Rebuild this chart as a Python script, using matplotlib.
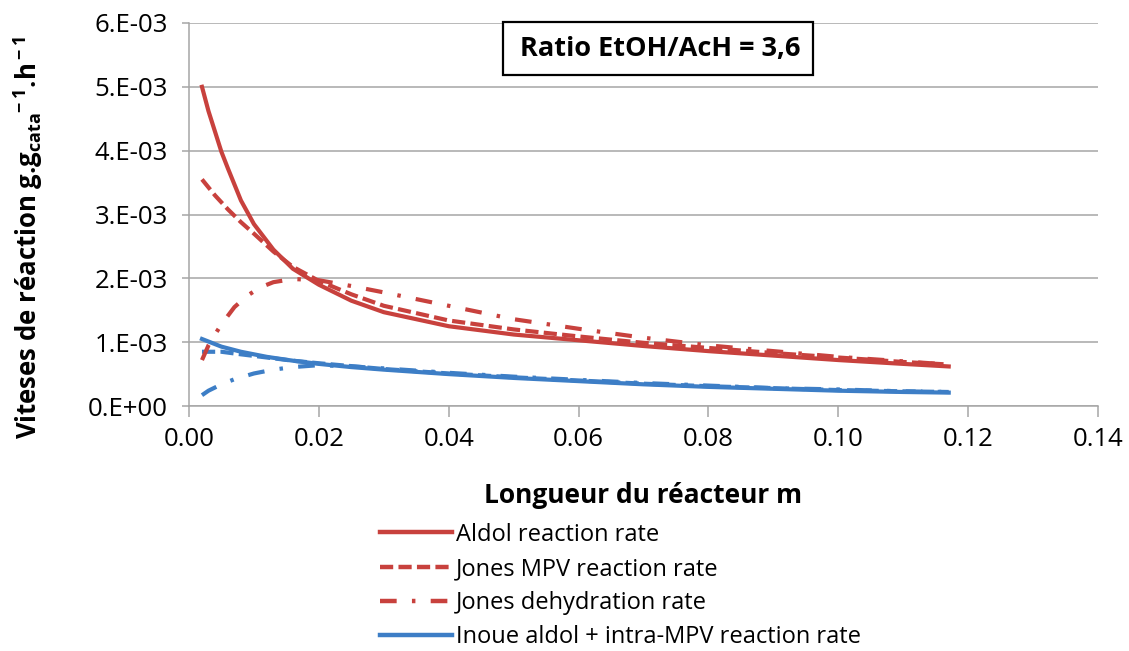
import matplotlib
matplotlib.use("Agg")
import matplotlib.pyplot as plt
from matplotlib.patches import Rectangle
from matplotlib.lines import Line2D

plt.rcParams["font.family"] = ["Open Sans", "DejaVu Sans"]
plt.rcParams["mathtext.fontset"] = "custom"
plt.rcParams["mathtext.rm"] = "Open Sans:bold"
plt.rcParams["mathtext.it"] = "Open Sans:bold"
plt.rcParams["mathtext.bf"] = "Open Sans:bold"
plt.rcParams["lines.scale_dashes"] = False

RED = "#C8413D"
BLUE = "#3D7EC6"
GRID = "#A6A6A6"

# reactor length (m) and rates (x1e-3)
aldol_x = [0.002, 0.003, 0.004, 0.005, 0.006, 0.008, 0.010, 0.013, 0.016, 0.020,
           0.025, 0.030, 0.040, 0.050, 0.060, 0.070, 0.080, 0.090, 0.100, 0.110, 0.117]
aldol_y = [5.00, 4.62, 4.30, 3.98, 3.72, 3.22, 2.85, 2.45, 2.15, 1.90,
           1.65, 1.47, 1.25, 1.12, 1.03, 0.94, 0.86, 0.79, 0.72, 0.66, 0.62]

mpv_x = [0.002, 0.004, 0.006, 0.008, 0.010, 0.013, 0.016, 0.020, 0.025, 0.030,
         0.040, 0.050, 0.060, 0.070, 0.080, 0.090, 0.100, 0.110, 0.117]
mpv_y = [3.55, 3.30, 3.08, 2.88, 2.70, 2.42, 2.18, 1.96, 1.75, 1.57,
         1.34, 1.20, 1.09, 0.99, 0.91, 0.83, 0.76, 0.69, 0.65]

dehyd_x = [0.002, 0.003, 0.004, 0.005, 0.007, 0.009, 0.011, 0.013, 0.016, 0.020,
           0.025, 0.030, 0.040, 0.050, 0.060, 0.070, 0.080, 0.090, 0.100, 0.110, 0.117]
dehyd_y = [0.72, 0.95, 1.12, 1.28, 1.55, 1.73, 1.86, 1.94, 1.99, 1.97,
           1.88, 1.78, 1.57, 1.36, 1.21, 1.07, 0.95, 0.86, 0.77, 0.70, 0.65]

inoue_x = [0.002, 0.005, 0.008, 0.012, 0.016, 0.020, 0.025, 0.030, 0.040, 0.050,
           0.060, 0.070, 0.080, 0.090, 0.100, 0.110, 0.117]
inoue_y = [1.05, 0.93, 0.85, 0.77, 0.71, 0.66, 0.61, 0.57, 0.50, 0.44,
           0.39, 0.34, 0.30, 0.27, 0.24, 0.22, 0.21]

blue_dash_x = [0.002, 0.005, 0.008, 0.012, 0.016, 0.020, 0.030, 0.040, 0.050,
               0.060, 0.070, 0.080, 0.090, 0.100, 0.110, 0.117]
blue_dash_y = [0.85, 0.85, 0.81, 0.76, 0.71, 0.67, 0.58, 0.51, 0.45,
               0.40, 0.35, 0.31, 0.28, 0.25, 0.23, 0.22]

blue_dd_x = [0.002, 0.003, 0.005, 0.007, 0.010, 0.013, 0.016, 0.020, 0.025, 0.030,
             0.040, 0.050, 0.060, 0.070, 0.080, 0.090, 0.100, 0.110, 0.117]
blue_dd_y = [0.17, 0.24, 0.34, 0.42, 0.51, 0.57, 0.61, 0.64, 0.62, 0.59,
             0.52, 0.46, 0.41, 0.36, 0.32, 0.28, 0.26, 0.23, 0.22]

y_ticks = [0, 1, 2, 3, 4, 5, 6]
y_tick_labels = ["0.E+00", "1.E-03", "2.E-03", "3.E-03", "4.E-03", "5.E-03", "6.E-03"]
x_ticks = [0.00, 0.02, 0.04, 0.06, 0.08, 0.10, 0.12, 0.14]
x_tick_labels = ["0.00", "0.02", "0.04", "0.06", "0.08", "0.10", "0.12", "0.14"]

legend_labels = ["Aldol reaction rate", "Jones MPV reaction rate",
                 "Jones dehydration rate", "Inoue aldol + intra-MPV reaction rate"]

DASH = (0, (9.5, 3.8))
DASHDOT = (0, (12, 11, 2.5, 11))

fig = plt.figure(figsize=(11.29, 6.51), dpi=100)
ax = fig.add_axes([0.1674, 0.3763, 0.8052, 0.5884])

lw = 3.0
ax.plot(blue_dd_x, blue_dd_y, color=BLUE, lw=lw, linestyle=DASHDOT)
ax.plot(blue_dash_x, blue_dash_y, color=BLUE, lw=lw, linestyle=DASH)
ax.plot(inoue_x, inoue_y, color=BLUE, lw=lw)
ax.plot(dehyd_x, dehyd_y, color=RED, lw=lw, linestyle=DASHDOT)
ax.plot(mpv_x, mpv_y, color=RED, lw=lw, linestyle=DASH)
ax.plot(aldol_x, aldol_y, color=RED, lw=lw)

ax.set_xlim(0, 0.14)
ax.set_ylim(0, 6)
ax.set_yticks(y_ticks)
ax.set_yticklabels(y_tick_labels, fontsize=18.5)
ax.set_xticks(x_ticks)
ax.set_xticklabels(x_tick_labels, fontsize=18.5)
ax.yaxis.grid(True, color=GRID, lw=1.1)
ax.set_axisbelow(True)
for s in ["top", "right"]:
    ax.spines[s].set_visible(False)
for s in ["left", "bottom"]:
    ax.spines[s].set_color(GRID)
    ax.spines[s].set_linewidth(1.1)
ax.tick_params(axis="x", length=8, width=1.1, color=GRID, pad=7)
ax.tick_params(axis="y", length=5, width=1.1, color=GRID, pad=10)

ax.set_xlabel("Longueur du réacteur m", fontsize=19, fontweight="bold", labelpad=22)
ax.set_ylabel(r"Viteses de réaction g.g$_{\rm cata}\!{}^{\rm -1}$.h$^{\rm -1}$",
              fontsize=18.5, fontweight="bold")
ax.yaxis.set_label_coords(-0.158, 0.44)

# ratio box
fig.add_artist(Rectangle((0.4455, 0.8848), 0.2746, 0.0814, transform=fig.transFigure,
                         fill=True, facecolor="white", edgecolor="black", lw=1.6))
fig.text(0.5845, 0.924, "Ratio EtOH/AcH = 3,6", fontsize=19.5, fontweight="bold",
         ha="center", va="center")

handles = [Line2D([], [], color=RED, lw=3.2),
           Line2D([], [], color=RED, lw=3.2, linestyle=DASH),
           Line2D([], [], color=RED, lw=3.2, linestyle=DASHDOT),
           Line2D([], [], color=BLUE, lw=3.2)]
fig.legend(handles, legend_labels, loc="upper left", bbox_to_anchor=(0.3366, 0.197),
           frameon=False, fontsize=17, handlelength=3.05, handletextpad=0.15,
           labelspacing=0.43, borderpad=0, borderaxespad=0)

fig.savefig("out.png", dpi=100)
